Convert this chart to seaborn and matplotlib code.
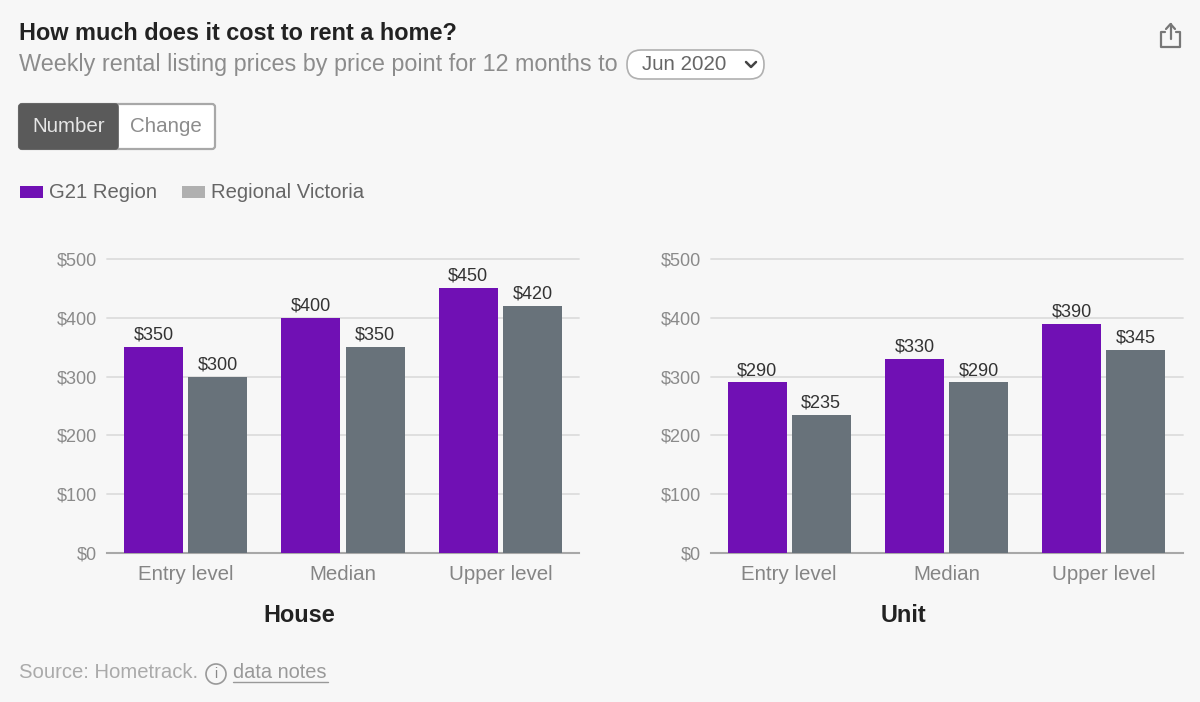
import matplotlib
matplotlib.use("Agg")
import matplotlib.pyplot as plt
from matplotlib.patches import FancyBboxPatch, Rectangle, Circle
import pandas as pd
import seaborn as sns

# values
levels = ["Entry level", "Median", "Upper level"]
regions = ["G21 Region", "Regional Victoria"]
house_g21 = [350, 400, 450]
house_vic = [300, 350, 420]
unit_g21 = [290, 330, 390]
unit_vic = [235, 290, 345]
y_ticks = [0, 100, 200, 300, 400, 500]

BG = "#f7f7f7"
PURPLE = "#7010b4"
SLATE = "#68727a"
W, H = 1200, 702

sns.set_theme(style="white")
plt.rcParams["font.family"] = ["Liberation Sans", "DejaVu Sans"]


def px(size):
    # font size in pixels to points at dpi 100
    return size * 0.72


def make_frame(g21, vic):
    return pd.DataFrame({
        "level": levels * 2,
        "region": [regions[0]] * 3 + [regions[1]] * 3,
        "price": list(g21) + list(vic),
    })


def draw_panel(fig, left, right, top, bottom, g21, vic, title):
    ax = fig.add_axes([left / W, 1 - bottom / H, (right - left) / W, (bottom - top) / H])
    ax.set_facecolor("none")
    sns.barplot(data=make_frame(g21, vic), x="level", y="price", hue="region",
                hue_order=regions, palette=[PURPLE, SLATE], width=0.815, gap=0.08,
                saturation=1, errorbar=None, legend=False, linewidth=0, ax=ax, zorder=3)
    for container in ax.containers:
        ax.bar_label(container, fmt="${:.0f}", padding=2.5, fontsize=px(18), color="#333333")
    ax.set_ylim(0, 500)
    ax.set_yticks(y_ticks)
    ax.set_yticklabels([f"${v}" for v in y_ticks])
    ax.grid(axis="y", color="#dddddd", lw=1.3, zorder=0)
    ax.set_axisbelow(True)
    for line in ax.get_ygridlines():
        line.set_clip_on(False)
    sns.despine(ax=ax, left=True, top=True, right=True)
    ax.spines["bottom"].set_color("#a8a8a8")
    ax.spines["bottom"].set_linewidth(1.5)
    ax.tick_params(axis="y", length=0, pad=7, labelsize=px(18), labelcolor="#8a8a8a")
    ax.tick_params(axis="x", length=0, pad=9, labelsize=px(20.5), labelcolor="#858585")
    # the panel title sits left of the axis centre in the original
    ax.set_xlabel(title, x=0.408, fontsize=px(23.5), fontweight="bold", color="#222222", labelpad=14)
    ax.set_ylabel("")
    return ax


fig = plt.figure(figsize=(W / 100, H / 100), dpi=100, facecolor=BG)

# overlay in pixel coordinates for the page furniture
ui = fig.add_axes([0, 0, 1, 1], zorder=5)
ui.set_xlim(0, W)
ui.set_ylim(H, 0)
ui.axis("off")

ui.text(19, 34, "How much does it cost to rent a home?", fontsize=px(23.45), fontweight="bold",
        color="#222222", va="center")
ui.text(19, 65, "Weekly rental listing prices by price point for 12 months to", fontsize=px(23.4),
        color="#8c8c8c", va="center")

# month selector
ui.add_patch(FancyBboxPatch((627, 50), 137, 29, boxstyle="round,pad=0,rounding_size=14",
                            fc="white", ec="#b0b0b0", lw=1.2))
ui.text(642, 65, "Jun 2020", fontsize=px(20.5), color="#666666", va="center")
ui.plot([746, 751, 756], [62, 67, 62], color="#444444", lw=1.8)

# number / change toggle
ui.add_patch(FancyBboxPatch((19, 104), 196, 45, boxstyle="round,pad=0,rounding_size=3",
                            fc="white", ec="#a8a8a8", lw=1.6))
ui.add_patch(FancyBboxPatch((19, 104), 99, 45, boxstyle="round,pad=0,rounding_size=3",
                            fc="#5a5a5a", ec="#5a5a5a", lw=1.2))
ui.text(68.5, 127, "Number", fontsize=px(20.5), color="#e6e6e6", ha="center", va="center")
ui.text(166, 127, "Change", fontsize=px(20.5), color="#8c8c8c", ha="center", va="center")

# legend
ui.add_patch(Rectangle((20, 186), 23, 12, fc=PURPLE, ec="none"))
ui.text(49, 192, regions[0], fontsize=px(20.3), color="#666666", va="center")
ui.add_patch(Rectangle((182, 186), 23, 12, fc="#b0b0b0", ec="none"))
ui.text(211, 192, regions[1], fontsize=px(20.3), color="#666666", va="center")

# share icon
ui.plot([1165, 1161, 1161, 1180, 1180, 1176], [32, 32, 47, 47, 32, 32], color="#777777", lw=1.6)
ui.plot([1170.5, 1170.5], [24, 39], color="#777777", lw=1.6)
ui.plot([1166, 1170.5, 1175], [29, 24, 29], color="#777777", lw=1.6)

# footer
ui.text(19, 672, "Source: Hometrack.", fontsize=px(20.3), color="#aaaaaa", va="center")
ui.add_patch(Circle((216, 674), 10, fc="none", ec="#999999", lw=1.2))
ui.text(216, 674, "i", fontsize=px(14), color="#888888", ha="center", va="center")
ui.text(233, 672, "data notes", fontsize=px(20), color="#999999", va="center")
ui.plot([233, 328], [682, 682], color="#999999", lw=1)

draw_panel(fig, 107, 579, 259, 553, house_g21, house_vic, "House")
draw_panel(fig, 710.5, 1182.5, 259, 553, unit_g21, unit_vic, "Unit")

fig.savefig("out.png", dpi=100, facecolor=BG)
